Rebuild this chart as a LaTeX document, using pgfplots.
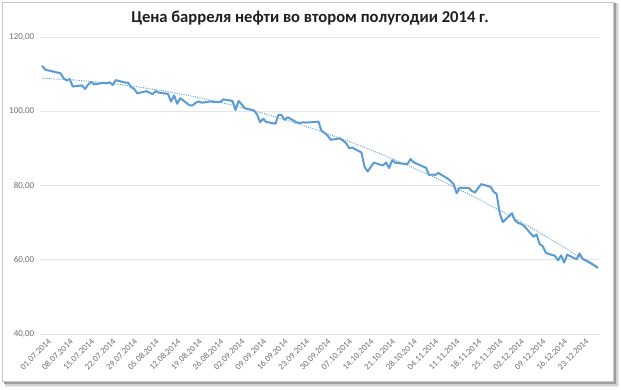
\documentclass[border=0pt]{standalone}
\usepackage{fontspec}
\setmainfont{Carlito}
\usepackage{pgfplots}
\pgfplotsset{compat=1.18}
\definecolor{exblue}{HTML}{5B9BD5}
\definecolor{gridc}{HTML}{E6E6E6}
\definecolor{labc}{HTML}{6E6E6E}
\begin{document}
\begin{tikzpicture}[x=1pt,y=1pt]
\path[use as bounding box] (0,0) rectangle (621,389);
\fill[black!8] (5,2) rectangle (619,385);
\fill[black!18] (5,3.5) rectangle (617.5,385.5);
\fill[black!38] (4,5) rectangle (615.5,386);
\fill[white] (2,8) rectangle (613,387);
\draw[black!22, line width=0.6pt] (2,8) rectangle (613,387);
\node[font=\bfseries\fontsize{16.6}{19}\selectfont, text=black!88] at (310,370.5) {Цена барреля нефти во втором полугодии 2014 г.};
\begin{axis}[at={(40.5pt,55pt)}, anchor=south west, scale only axis,
  width=559pt, height=297pt,
  xmin=-0.5, xmax=181.5, ymin=40, ymax=120,
  axis line style={draw=none}, major tick length=0pt,
  ymajorgrids, grid style={gridc, line width=0.8pt},
  ytick={40,60,80,100,120},
  xtick={0,7,...,175},
  xticklabels={01.07.2014,08.07.2014,15.07.2014,22.07.2014,29.07.2014,05.08.2014,12.08.2014,19.08.2014,26.08.2014,02.09.2014,09.09.2014,16.09.2014,23.09.2014,30.09.2014,07.10.2014,14.10.2014,21.10.2014,28.10.2014,04.11.2014,11.11.2014,18.11.2014,25.11.2014,02.12.2014,09.12.2014,16.12.2014,23.12.2014},
  tick label style={font=\fontsize{9}{10}\selectfont, text=labc},
  xticklabel style={rotate=45, anchor=north east, inner sep=0pt, yshift=-7pt, xshift=1pt, font=\fontsize{8.7}{10}\selectfont},
  yticklabel style={anchor=east, inner sep=0pt, xshift=-6pt,
    /pgf/number format/.cd, fixed, fixed zerofill, precision=2, use comma},
  /pgf/number format/assume math mode=true,
  clip=false]
\addplot[exblue, line width=2pt, line join=round] coordinates {
(0,112.29) (1,111.24) (2,111.00) (6,110.24) (7,108.94) (8,108.28) (9,108.66) (10,106.66)
(13,106.98) (14,106.02) (15,107.17) (16,107.89) (17,107.24) (20,107.68) (21,107.53) (22,107.80)
(23,107.07) (24,108.39) (27,107.72) (28,107.72) (29,106.51) (30,106.02)
(31,104.84) (34,105.41) (35,105.02) (36,104.61) (37,105.44) (38,105.02)
(41,104.68) (42,102.60) (43,104.29) (44,102.01) (45,103.53)
(48,101.60) (49,101.56) (50,102.26) (51,102.65) (52,102.29)
(55,102.65) (56,102.49) (57,102.56) (58,102.46) (59,103.19)
(62,102.79) (63,100.34) (64,102.77) (65,101.83) (66,100.82)
(69,100.20) (70,99.16) (71,97.04) (72,97.99) (73,97.11)
(76,96.65) (77,99.05) (78,98.97) (79,97.70) (80,98.39)
(83,96.97) (84,96.85) (85,97.04) (86,96.95) (87,97.00)
(90,97.20) (91,94.67) (92,94.16) (93,93.42) (94,92.31)
(97,92.69) (98,92.11) (99,91.38) (100,90.05) (101,90.21)
(104,88.89) (105,85.04) (106,83.78) (107,84.96) (108,86.16)
(111,85.40) (112,86.22) (113,84.71) (114,86.83) (115,86.13)
(118,85.83) (119,85.82) (120,87.12) (121,86.24) (122,85.86)
(125,84.78) (126,82.82) (127,82.95) (128,82.86) (129,83.39)
(132,81.90) (133,81.20) (134,80.38) (135,77.92) (136,79.41)
(139,79.31) (140,78.47) (141,78.10) (142,79.33) (143,80.36)
(146,79.68) (147,78.33) (148,77.75) (149,72.58) (150,70.15)
(153,72.54) (154,70.54) (155,69.92) (156,69.64) (157,69.07)
(160,66.19) (161,66.84) (162,64.24) (163,63.68) (164,61.85)
(167,61.06) (168,59.86) (169,61.18) (170,59.27) (171,61.38)
(174,60.11) (175,61.69) (176,60.24) (178,59.45) (181,57.88)
};
\addplot[exblue, line width=0.9pt, dash pattern=on 1pt off 1.3pt] coordinates {
(0,108.90) (10,108.45) (20,107.72) (30,106.72) (40,105.43) (50,103.87) (60,102.02)
(70,99.90) (80,97.50) (90,94.82) (100,91.86) (110,88.62) (120,85.10) (130,81.31)
(140,77.23) (150,72.88) (160,68.24) (170,63.33) (181,57.60)
};
\end{axis}
\end{tikzpicture}
\end{document}
